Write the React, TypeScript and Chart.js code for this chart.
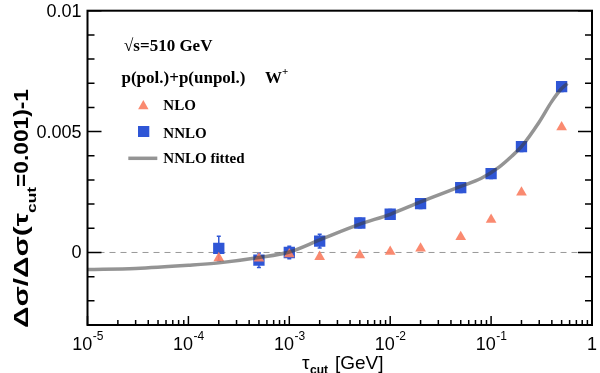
import React, { useEffect, useRef } from 'react';
import { Chart, registerables } from 'chart.js';

Chart.register(...registerables);

// ---- data ----
const tauCut = [2e-4, 5e-4, 1e-3, 2e-3, 5e-3, 1e-2, 2e-2, 5e-2, 1e-1, 2e-1, 5e-1];
const nloValues = [-0.00023, -0.00025, -0.00007, -0.00018, -0.00011, 0.00003, 0.00017, 0.00064, 0.00136, 0.00248, 0.00518];
const nnloValues = [0.00017, -0.00032, 0.0, 0.00047, 0.00122, 0.00158, 0.00202, 0.00268, 0.00326, 0.00438, 0.00686];
const nnloErrors = [0.0005, 0.0003, 0.00026, 0.00028, 0.0002, 0.0002, 0.0002, 0.0002, 0.0002, 0.0002, 0.0002];
const fitTau = [1e-5, 3e-5, 1e-4, 2e-4, 5e-4, 1e-3, 2e-3, 5e-3, 1e-2, 2e-2, 5e-2, 8e-2, 1.2e-1, 1.6e-1, 2e-1, 3e-1, 4e-1, 5e-1, 5.7e-1];
const fitValues = [-0.0007, -0.00066, -0.00053, -0.00043, -0.00021, 0.00002, 0.00052, 0.00117, 0.00158, 0.00209, 0.00273, 0.00307, 0.00353, 0.00398, 0.00438, 0.0054, 0.00625, 0.00678, 0.00699];
const xMajorTicks = [1e-5, 1e-4, 1e-3, 1e-2, 1e-1, 1];
const xTickExponents = ['-5', '-4', '-3', '-2', '-1', ''];
const yMajorTicks = [0, 0.005, 0.01];
const yTickLabels = ['0', '0.005', '0.01'];
const yMinorStep = 0.001;

const NNLO_COLOR = '#2f56d6';
const NLO_COLOR = 'rgba(250,128,100,0.92)';
const FIT_COLOR = 'rgba(60,60,60,0.55)';

const decor = {
  id: 'decor',
  beforeDatasetsDraw(chart: any) {
    const { ctx, scales } = chart;
    const x = scales.x, y = scales.y;
    ctx.save();
    ctx.strokeStyle = NNLO_COLOR;
    ctx.lineWidth = 1.5;
    tauCut.forEach((t, i) => {
      const px = x.getPixelForValue(t);
      const top = y.getPixelForValue(nnloValues[i] + nnloErrors[i]);
      const bot = y.getPixelForValue(nnloValues[i] - nnloErrors[i]);
      ctx.beginPath();
      ctx.moveTo(px, top); ctx.lineTo(px, bot);
      ctx.moveTo(px - 2, top); ctx.lineTo(px + 2, top);
      ctx.moveTo(px - 2, bot); ctx.lineTo(px + 2, bot);
      ctx.stroke();
    });
    ctx.restore();
  },
  afterDatasetsDraw(chart: any) {
    const { ctx, chartArea: a, scales } = chart;
    const x = scales.x, y = scales.y;
    ctx.save();
    // frame
    ctx.strokeStyle = '#000';
    ctx.lineWidth = 2;
    ctx.strokeRect(a.left, a.top, a.right - a.left, a.bottom - a.top);

    // y ticks (left and right, inward)
    ctx.lineWidth = 1.5;
    const yMin = y.min, yMax = y.max;
    for (let v = Math.ceil(yMin / yMinorStep) * yMinorStep; v <= yMax + 1e-12; v += yMinorStep) {
      const vv = Math.round(v / yMinorStep) * yMinorStep;
      const isMajor = yMajorTicks.some((m) => Math.abs(m - vv) < 1e-9);
      const len = isMajor ? 14 : 7;
      const py = y.getPixelForValue(vv);
      ctx.beginPath();
      ctx.moveTo(a.left, py); ctx.lineTo(a.left + len, py);
      ctx.moveTo(a.right, py); ctx.lineTo(a.right - len, py);
      ctx.stroke();
    }
    // x ticks (bottom, inward)
    for (let d = -5; d <= -1; d++) {
      for (let k = 1; k <= 9; k++) {
        const v = k * Math.pow(10, d);
        const px = x.getPixelForValue(v);
        const len = k === 1 ? 9 : 5;
        ctx.beginPath();
        ctx.moveTo(px, a.bottom); ctx.lineTo(px, a.bottom - len);
        ctx.stroke();
      }
    }

    // y tick labels
    ctx.fillStyle = '#000';
    ctx.font = '18px "Liberation Sans", Arial, sans-serif';
    ctx.textAlign = 'right';
    ctx.textBaseline = 'middle';
    yMajorTicks.forEach((v, i) => {
      ctx.fillText(yTickLabels[i], a.left - 6, y.getPixelForValue(v) + 1);
    });

    // x tick labels with superscripts
    ctx.textAlign = 'left';
    ctx.textBaseline = 'alphabetic';
    xMajorTicks.forEach((v, i) => {
      const px = x.getPixelForValue(v);
      const exp = xTickExponents[i];
      if (!exp) {
        ctx.font = '18px "Liberation Sans", Arial, sans-serif';
        const w = ctx.measureText('1').width;
        ctx.fillText('1', px - w / 2, 350);
        return;
      }
      ctx.font = '18px "Liberation Sans", Arial, sans-serif';
      const w1 = ctx.measureText('10').width;
      ctx.font = '12px "Liberation Sans", Arial, sans-serif';
      const w2 = ctx.measureText(exp).width;
      const start = px - (w1 + w2) / 2;
      ctx.font = '18px "Liberation Sans", Arial, sans-serif';
      ctx.fillText('10', start, 350);
      ctx.font = '12px "Liberation Sans", Arial, sans-serif';
      ctx.fillText(exp, start + w1 + 0.5, 339.5);
    });

    // x title
    ctx.font = '19px "Liberation Sans", Arial, sans-serif';
    ctx.fillText('τ', 302, 369);
    const wt = ctx.measureText('τ').width;
    ctx.font = 'bold 12px "Liberation Sans", Arial, sans-serif';
    ctx.fillText('cut', 302 + wt + 0.5, 374);
    ctx.font = '19px "Liberation Sans", Arial, sans-serif';
    ctx.fillText('[GeV]', 335, 369);

    // y title (rotated), segments fitted to reference lengths
    ctx.save();
    ctx.translate(28, 328);
    ctx.rotate(-Math.PI / 2);
    const segs = [
      { t: 'Δσ/Δσ(τ', f: 'bold 20px "Liberation Sans", Arial, sans-serif', dy: 0, w: 115 },
      { t: 'cut', f: 'bold 12px "Liberation Sans", Arial, sans-serif', dy: 8, w: 26 },
      { t: '=0.001)-1', f: 'bold 20px "Liberation Sans", Arial, sans-serif', dy: 0, w: 98 },
    ];
    let cx = 0;
    segs.forEach((s) => {
      ctx.font = s.f;
      const mw = ctx.measureText(s.t).width;
      ctx.save();
      ctx.translate(cx, s.dy);
      ctx.scale(s.w / mw, 1);
      ctx.fillText(s.t, 0, 0);
      ctx.restore();
      cx += s.w;
    });
    ctx.restore();

    // text block / legend
    ctx.font = 'bold 17px "Liberation Serif", "Times New Roman", serif';
    ctx.fillText('√s=510 GeV', 124, 50.5);
    ctx.fillText('p(pol.)+p(unpol.)', 121.5, 83);
    ctx.fillText('W', 265, 83);
    const wW = ctx.measureText('W').width;
    ctx.font = 'bold 11px "Liberation Serif", "Times New Roman", serif';
    ctx.fillText('+', 265 + wW, 75);

    // legend markers
    ctx.fillStyle = NLO_COLOR;
    ctx.beginPath();
    ctx.moveTo(143.3, 100);
    ctx.lineTo(148.5, 109.3);
    ctx.lineTo(138.1, 109.3);
    ctx.closePath();
    ctx.fill();
    ctx.fillStyle = NNLO_COLOR;
    ctx.fillRect(138, 126, 11.3, 11);
    ctx.strokeStyle = FIT_COLOR;
    ctx.lineWidth = 3.5;
    ctx.beginPath();
    ctx.moveTo(128.3, 158.3); ctx.lineTo(157.3, 158.3);
    ctx.stroke();

    ctx.fillStyle = '#000';
    ctx.font = 'bold 15px "Liberation Serif", "Times New Roman", serif';
    ctx.fillText('NLO', 163.3, 110);
    ctx.fillText('NNLO', 163.3, 138.3);
    ctx.fillText('NNLO fitted', 163.3, 162.7);

    ctx.restore();
  },
};

export default function App() {
  const ref = useRef<HTMLCanvasElement | null>(null);
  useEffect(() => {
    document.body.style.margin = '0';
    const canvas = ref.current;
    if (!canvas) return;
    const chart = new Chart(canvas, {
      type: 'scatter',
      data: {
        datasets: [
          {
            type: 'line',
            label: 'NNLO fitted',
            data: fitTau.map((t, i) => ({ x: t, y: fitValues[i] })),
            borderColor: FIT_COLOR,
            borderWidth: 3.5,
            pointRadius: 0,
            cubicInterpolationMode: 'monotone',
            fill: false,
            order: 0,
          } as any,
          {
            label: 'NLO',
            data: tauCut.map((t, i) => ({ x: t, y: nloValues[i] })),
            pointStyle: 'triangle',
            pointRadius: 6.2,
            backgroundColor: NLO_COLOR,
            borderWidth: 0,
            order: 1,
          } as any,
          {
            label: 'NNLO',
            data: tauCut.map((t, i) => ({ x: t, y: nnloValues[i] })),
            pointStyle: 'rect',
            pointRadius: 8,
            backgroundColor: NNLO_COLOR,
            borderWidth: 0,
            order: 2,
          } as any,
          {
            type: 'line',
            label: 'zero',
            data: [{ x: 1e-5, y: 0 }, { x: 1, y: 0 }],
            borderColor: '#999',
            borderWidth: 1,
            borderDash: [6, 5],
            pointRadius: 0,
            fill: false,
            order: 3,
          } as any,
        ],
      },
      options: {
        animation: false,
        responsive: false,
        devicePixelRatio: 1,
        events: [],
        layout: { padding: { left: 87.5, right: 5.5, top: 10.7, bottom: 48 } },
        plugins: { legend: { display: false }, tooltip: { enabled: false } },
        scales: {
          x: { type: 'logarithmic', min: 1e-5, max: 1, display: false },
          y: { type: 'linear', min: -0.003, max: 0.01, display: false },
        },
      },
      plugins: [decor],
    });
    return () => chart.destroy();
  }, []);
  return (
    <div style={{ position: 'absolute', left: 0, top: 0, width: 600, height: 373, background: '#fff' }}>
      <canvas ref={ref} width={600} height={373} style={{ width: 600, height: 373, display: 'block' }} />
    </div>
  );
}
